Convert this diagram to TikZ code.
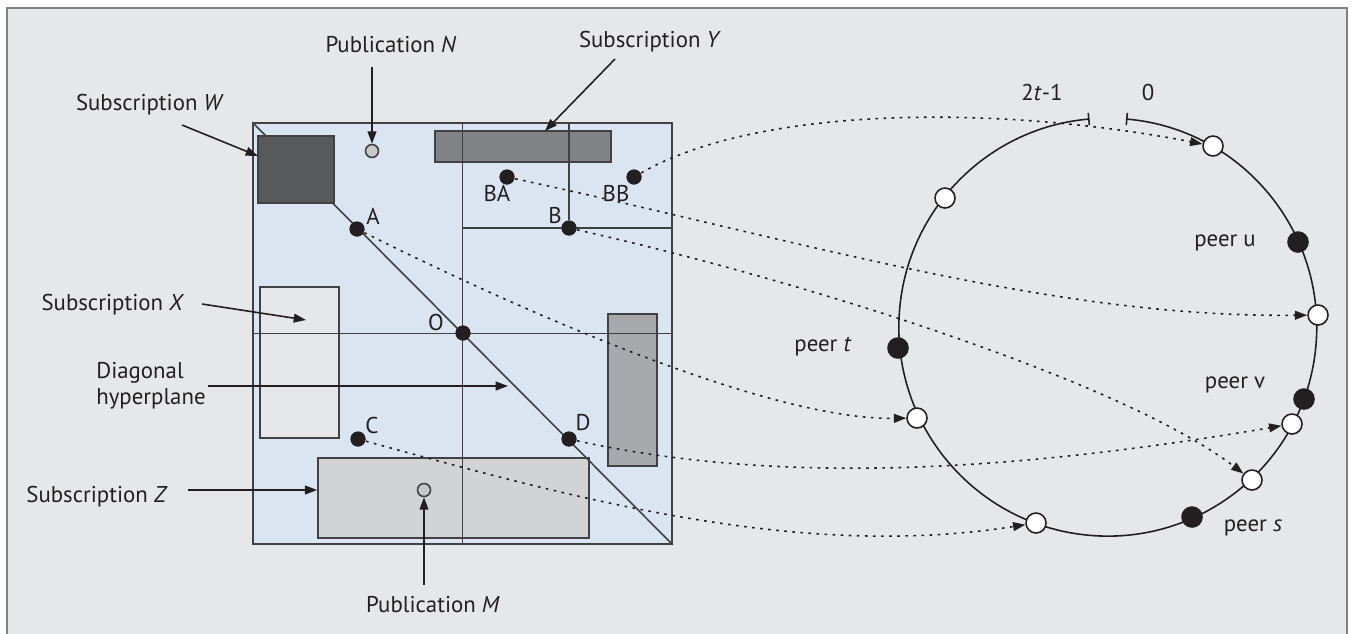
\documentclass[tikz,border=0pt]{standalone}
\usepackage{fontspec}
\setmainfont{PT Sans}
\usetikzlibrary{arrows.meta}
\definecolor{panel}{HTML}{E6E7E8}
\definecolor{frame}{HTML}{808285}
\definecolor{sqblue}{HTML}{DAE5F1}
\definecolor{edge}{HTML}{414042}
\definecolor{ink}{HTML}{231F20}
\definecolor{wgray}{HTML}{58595B}
\definecolor{ygray}{HTML}{808285}
\definecolor{qgray}{HTML}{A7A9AC}
\definecolor{zgray}{HTML}{D1D3D4}
\definecolor{pgray}{HTML}{C7C8CA}
\begin{document}
\begin{tikzpicture}[x=0.02cm,y=-0.02cm,line width=0.9pt,
    lbl/.style={font=\fontsize{13}{15}\selectfont,inner sep=1pt,text=ink},
    dot/.style={circle,fill=ink,inner sep=0pt,minimum size=0.3cm},
    pub/.style={circle,draw=edge,fill=pgray,inner sep=0pt,minimum size=0.26cm},
    peer/.style={circle,draw=ink,fill=white,inner sep=0pt,minimum size=0.4cm},
    peerb/.style={peer,fill=ink},
    subbox/.style={draw=edge,inner sep=0pt},
    arr/.style={draw=ink,-{Triangle[length=7pt,width=5pt]}},
    darr/.style={arr,line width=0.9pt,dash pattern=on 1.5pt off 3.1pt}]
  \useasboundingbox (0,0) rectangle (1356,633);
  \draw[fill=panel,draw=frame,line width=1.1pt] (7,8) rectangle (1347,660);

  % attribute space
  \node[subbox,fill=sqblue,minimum width=8.38cm,minimum height=8.42cm] (P) at (462.5,333.5) {};
  \node[subbox,fill=panel,minimum width=1.58cm,minimum height=3.02cm] (X) at (299.5,362.5) {};
  \node[subbox,fill=ygray,minimum width=3.52cm,minimum height=0.62cm] (Y) at (523,146.5) {};
  \node[subbox,fill=qgray,minimum width=0.98cm,minimum height=3.04cm] (Q) at (632.5,390) {};
  \node[subbox,fill=zgray,minimum width=5.42cm,minimum height=1.6cm] (Z) at (453.5,498) {};

  \node[dot] (A) at (357,229) {};
  \node[dot] (B) at (569,228) {};
  \node[dot] (BA) at (507,177) {};
  \node[dot] (BB) at (634,177) {};
  \node[dot] (O) at (463,333) {};
  \node[dot] (C) at (358,439) {};
  \node[dot] (D) at (569,439) {};

  \draw[edge] (P.north) -- (P.south);
  \draw[edge] (P.west) -- (P.east);
  \draw[edge] (P.north west) -- (P.south east);
  \draw[edge] (P.north |- B) -- (B -| P.east);
  \draw[edge] (B) -- (B |- P.north);
  \node[subbox,fill=wgray,minimum width=1.52cm,minimum height=1.34cm] (W) at (296,169.5) {};

  \foreach \n in {A,B,BA,BB,O,C,D} \node[dot] at (\n) {};

  \node[pub] (N) at (372,151) {};
  \node[pub] (M) at (424,490) {};

  \node[lbl] (lA) at (373,216) {A};
  \node[lbl] (lB) at (555,215) {B};
  \node[lbl] (lBA) at (497,193) {BA};
  \node[lbl] (lBB) at (616,193) {BB};
  \node[lbl] (lO) at (436,322) {O};
  \node[lbl] (lC) at (372,425) {C};
  \node[lbl] (lD) at (583,423) {D};

  % labels and pointers
  \node[lbl] (lN) at (391,45) {Publication \textit{N}};
  \node[lbl] (lY) at (650,42) {Subscription \textit{Y}};
  \node[lbl] (lW) at (150,105) {Subscription \textit{W}};
  \node[lbl] (lX) at (113,305) {Subscription \textit{X}};
  \node[lbl,align=left] (lH) at (151,386) {Diagonal\\hyperplane};
  \node[lbl] (lZ) at (97,497) {Subscription \textit{Z}};
  \node[lbl] (lM) at (433,605) {Publication \textit{M}};

  \coordinate (y0) at (615,59);
  \coordinate (y1) at (545,131);
  \coordinate (w0) at (182,125);
  \coordinate (w1) at (258,156);
  \coordinate (x0) at (202,304);
  \coordinate (x1) at (306,320);
  \coordinate (h0) at (208,386);
  \coordinate (h1) at (508,386);
  \coordinate (z0) at (188,490);

  \draw[arr] (372,67) -- (N);
  \draw[arr] (y0) -- (y1);
  \draw[arr] (w0) -- (w1);
  \draw[arr] (x0) -- (x1);
  \draw[arr] (h0) -- (h1);
  \draw[arr] (z0) -- (z0 -| Z.west);
  \draw[arr] (424,585) -- (M);

  % ring
  \draw[ink,{Bar[width=7pt]}-{Bar[width=7pt]}] (1126,119) arc[start angle=85,end angle=-265,radius=4.18cm];
  \node[lbl] (l2t) at (1042,92) {2\textit{t}-1};
  \node[lbl] (l0) at (1148,92) {0};

  \node[peer] (r1) at (1213,146) {};
  \node[peer] (r2) at (945,198) {};
  \node[peer] (r3) at (1318,315) {};
  \node[peer] (r4) at (917,418) {};
  \node[peer] (r5) at (1292,424) {};
  \node[peer] (r6) at (1252,480) {};
  \node[peer] (r7) at (1036,523) {};
  \node[peerb] (pu) at (1298,242) {};
  \node[peerb] (pt) at (898,348) {};
  \node[peerb] (pv) at (1304,399) {};
  \node[peerb] (ps) at (1192,517) {};

  \node[lbl] (lpu) at (1225,243) {peer u};
  \node[lbl] (lpt) at (823,347) {peer \textit{t}};
  \node[lbl] (lpv) at (1235,385) {peer v};
  \node[lbl] (lps) at (1253,528) {peer \textit{s}};

  % mapping
  \draw[darr] (BB) .. controls (760,105) and (1000,105) .. (r1);
  \draw[darr] (BA) .. controls (800,240) and (1050,318) .. (r3);
  \draw[darr] (B) .. controls (800,280) and (1120,380) .. (r6);
  \draw[darr] (A) .. controls (560,330) and (780,420) .. (r4);
  \draw[darr] (D) .. controls (800,490) and (1050,465) .. (r5);
  \draw[darr] (C) .. controls (580,500) and (800,560) .. (r7);
\end{tikzpicture}
\end{document}
